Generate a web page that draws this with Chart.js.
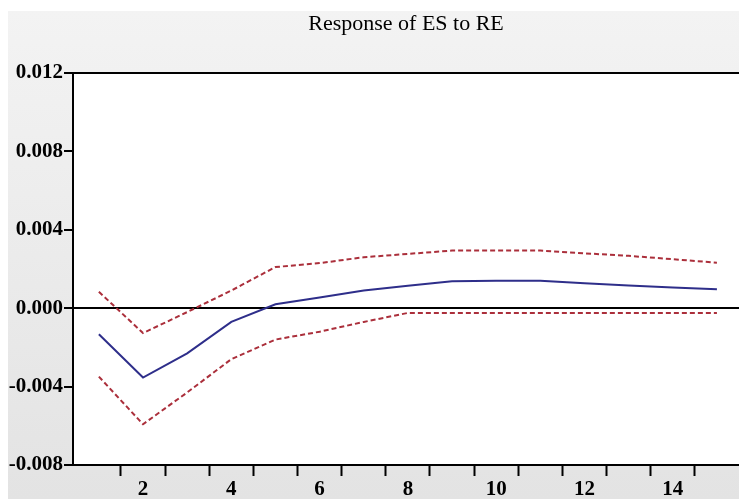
<!DOCTYPE html>
<html>
<head>
<meta charset="utf-8">
<title>Response of ES to RE</title>
<script src="https://cdn.jsdelivr.net/npm/chart.js@4"></script>
<style>
  html, body { margin: 0; padding: 0; background: #fff; }
  #irfChart { display: block; }
</style>
</head>
<body>
<canvas id="irfChart" width="739" height="499"></canvas>
<script>
// periods after the shock
const periods = [1, 2, 3, 4, 5, 6, 7, 8, 9, 10, 11, 12, 13, 14, 15];

// impulse response and +/- 2 s.e. bands
const response = [-0.00133, -0.00354, -0.0023, -0.0007, 0.0002, 0.00055, 0.0009, 0.00115, 0.00137, 0.0014, 0.0014, 0.00127, 0.00116, 0.00106, 0.00097];
const upperBand = [0.00084, -0.00127, -0.0002, 0.0009, 0.0021, 0.0023, 0.0026, 0.00277, 0.00294, 0.00294, 0.00294, 0.0028, 0.00267, 0.0025, 0.00232];
const lowerBand = [-0.00349, -0.00592, -0.0043, -0.0026, -0.0016, -0.0012, -0.0007, -0.00024, -0.00024, -0.00024, -0.00024, -0.00024, -0.00024, -0.00024, -0.00024];

// axis labels
const xLabels = [2, 4, 6, 8, 10, 12, 14];
const yTicks = [-0.008, -0.004, 0.000, 0.004, 0.008, 0.012];

function toPoints(values) {
  return periods.map((p, i) => ({ x: p, y: values[i] }));
}

// grey frame + white plot area
const backdrop = {
  id: "backdrop",
  beforeDraw(chart) {
    const c = chart.ctx;
    const a = chart.chartArea;
    c.save();
    const g = c.createLinearGradient(0, 11, 0, chart.height);
    g.addColorStop(0, "#f3f3f3");
    g.addColorStop(1, "#e3e3e3");
    c.fillStyle = g;
    c.fillRect(8, 11, chart.width - 8, chart.height - 11);
    c.fillStyle = "#ffffff";
    c.fillRect(a.left, a.top, a.right - a.left, a.bottom - a.top);
    c.restore();
  }
};

// tick marks sit between periods, labels on even periods
const xTickValues = [];
for (let i = 1; i < 15; i++) {
  xTickValues.push(i + 0.5);
  if (xLabels.includes(i)) xTickValues.push(i);
}
xTickValues.sort((a, b) => a - b);

const serif = "'Liberation Serif', 'DejaVu Serif', serif";

new Chart(document.getElementById("irfChart"), {
  type: "line",
  data: {
    datasets: [
      {
        data: toPoints(upperBand),
        borderColor: "#ab2f3b",
        borderWidth: 2,
        borderDash: [5, 3],
        pointRadius: 0,
        tension: 0
      },
      {
        data: toPoints(lowerBand),
        borderColor: "#ab2f3b",
        borderWidth: 2,
        borderDash: [5, 3],
        pointRadius: 0,
        tension: 0
      },
      {
        data: toPoints(response),
        borderColor: "#2e2e8a",
        borderWidth: 2,
        pointRadius: 0,
        tension: 0
      }
    ]
  },
  options: {
    responsive: false,
    animation: false,
    layout: { padding: 0 },
    plugins: {
      legend: { display: false },
      tooltip: { enabled: false },
      title: {
        display: true,
        text: "Response of ES to RE",
        fullSize: false,
        color: "#000",
        font: { family: serif, size: 22, weight: "normal" },
        padding: { top: 11.3, bottom: 35.3 }
      }
    },
    scales: {
      x: {
        type: "linear",
        min: 0.414,
        max: 15.5,
        afterBuildTicks(scale) {
          scale.ticks = xTickValues.map(v => ({ value: v }));
        },
        afterFit(scale) { scale.height = 34; },
        border: { display: true, color: "#000", width: 2 },
        grid: {
          drawOnChartArea: false,
          drawTicks: true,
          tickLength: 11,
          tickWidth: 2,
          tickColor: ctx => (Number.isInteger(ctx.tick.value) ? "rgba(0,0,0,0)" : "#000")
        },
        ticks: {
          autoSkip: false,
          maxRotation: 0,
          padding: 1,
          color: "#000",
          font: { family: serif, size: 21, weight: "bold" },
          callback: v => (Number.isInteger(v) ? String(v) : "")
        }
      },
      y: {
        min: -0.008,
        max: 0.012,
        afterBuildTicks(scale) {
          scale.ticks = yTicks.map(v => ({ value: v }));
        },
        afterFit(scale) { scale.width = 73; },
        border: { display: true, color: "#000", width: 2 },
        grid: {
          drawOnChartArea: true,
          drawTicks: true,
          tickLength: 9,
          tickWidth: 2,
          tickColor: "#000",
          lineWidth: 2,
          color: ctx => (ctx.tick && (Math.abs(ctx.tick.value) < 1e-9 || Math.abs(ctx.tick.value - 0.012) < 1e-9) ? "#000" : "rgba(0,0,0,0)")
        },
        ticks: {
          padding: 1,
          color: "#000",
          font: { family: serif, size: 21, weight: "bold" },
          callback: v => v.toFixed(3)
        }
      }
    }
  },
  plugins: [backdrop]
});
</script>
</body>
</html>
